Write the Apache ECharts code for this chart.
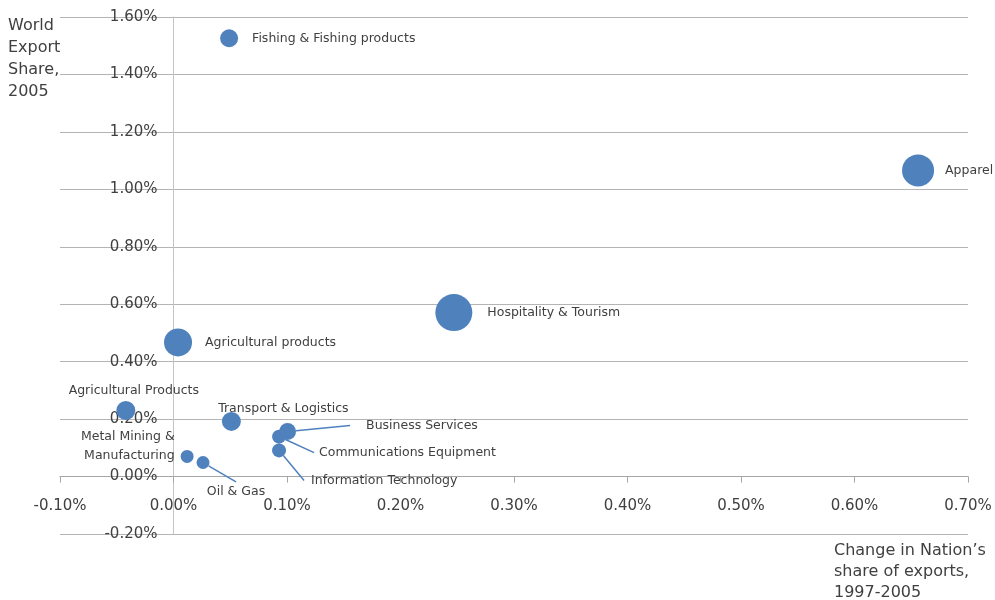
<!DOCTYPE html>
<html>
<head>
<meta charset="utf-8">
<script src="https://cdn.jsdelivr.net/npm/echarts@6/dist/echarts.min.js"></script>
<style>
  html, body { margin: 0; padding: 0; background: #ffffff; }
  #chart { width: 995px; height: 600px; }
</style>
</head>
<body>
<div id="chart"></div>
<script>
// Industry clusters: change in the nation's share of exports (x, %),
// world export share (y, %), bubble size = relative cluster size.
const industries = [
  'Fishing & Fishing products',
  'Apparel',
  'Hospitality & Tourism',
  'Agricultural products',
  'Agricultural Products',
  'Transport & Logistics',
  'Metal Mining & Manufacturing',
  'Oil & Gas',
  'Business Services',
  'Communications Equipment',
  'Information Technology'
];
const shareChange = [0.049, 0.656, 0.247, 0.004, -0.042, 0.051, 0.012, 0.026, 0.1005, 0.093, 0.093];
const worldShare  = [1.526, 1.066, 0.571, 0.467, 0.230, 0.192, 0.070, 0.049, 0.157, 0.139, 0.091];
const clusterSize = [81, 256, 342, 196, 90, 90, 42, 42, 72, 49, 49];

const xRange = { min: -0.1, max: 0.7, step: 0.1 };
const yRange = { min: -0.2, max: 1.6, step: 0.2 };

const FONT = '"DejaVu Sans", Verdana, sans-serif';
const TEXT = '#404040';
const BUBBLE = '#4f81bd';
const GRID_LINE = '#b4b4b4';

// Where each label sits relative to its bubble; "shift" nudges the label
// after placement, "leader" draws a guide line back to the bubble.
const placement = {
  'Fishing & Fishing products':   { position: 'right', distance: 14 },
  'Apparel':                      { position: 'right', distance: 11 },
  'Hospitality & Tourism':        { position: 'right', distance: 15 },
  'Agricultural products':        { position: 'right', distance: 13 },
  'Agricultural Products':        { position: 'top', shift: [8, 4] },
  'Transport & Logistics':        { position: 'top', shift: [52, 11] },
  'Metal Mining & Manufacturing': { position: 'left', distance: 6, shift: [0, -10], text: 'Metal Mining &\nManufacturing' },
  'Oil & Gas':                    { position: 'bottom', padding: [0, 0, 30, 0], shift: [33, 8], leader: true },
  'Business Services':            { position: 'right', padding: [0, 0, 0, 16], shift: [49, -6], leader: true },
  'Communications Equipment':     { position: 'right', padding: [0, 0, 0, 5], shift: [23, 16], leader: true },
  'Information Technology':       { position: 'right', padding: [0, 0, 0, 7], shift: [13, 30], leader: true }
};

const seriesData = industries.map(function (name, i) {
  const p = placement[name];
  const label = {
    position: p.position,
    distance: p.distance !== undefined ? p.distance : 5,
    formatter: p.text || name
  };
  if (p.padding) label.padding = p.padding;
  return {
    name: name,
    value: [shareChange[i], worldShare[i], clusterSize[i]],
    label: label,
    labelLine: { show: !!p.leader }
  };
});

const pct = function (v) { return v.toFixed(2) + '%'; };

const chart = echarts.init(document.getElementById('chart'), null, { renderer: 'canvas' });

const option = {
  backgroundColor: '#ffffff',
  animation: false,
  title: [
    {
      text: 'World\nExport\nShare,\n2005',
      left: 8, top: 15, padding: 0,
      textStyle: { fontFamily: FONT, fontSize: 16, fontWeight: 'normal', color: TEXT, lineHeight: 22 }
    },
    {
      text: 'Change in Nation\u2019s\nshare of exports,\n1997-2005',
      left: 834, top: 540, padding: 0,
      textStyle: { fontFamily: FONT, fontSize: 16, fontWeight: 'normal', color: TEXT, lineHeight: 21 }
    }
  ],
  grid: { left: 60, right: 27, top: 17, bottom: 66, containLabel: false, outerBoundsMode: 'none' },
  xAxis: {
    type: 'value',
    position: 'bottom',
    min: xRange.min, max: xRange.max, interval: xRange.step,
    axisLine: { show: true, onZero: false, lineStyle: { color: '#a6a6a6', width: 1 } },
    axisTick: { show: true, length: 6, lineStyle: { color: '#a6a6a6' } },
    axisLabel: { margin: 22, formatter: pct, fontFamily: FONT, fontSize: 15, color: TEXT },
    splitLine: { show: false }
  },
  yAxis: {
    type: 'value',
    position: 'left',
    min: yRange.min, max: yRange.max, interval: yRange.step,
    axisLine: { show: true, onZero: false, lineStyle: { color: '#c4c4c4', width: 1 } },
    axisTick: { show: false },
    axisLabel: { margin: 16, formatter: pct, fontFamily: FONT, fontSize: 15, color: TEXT },
    splitLine: { show: true, lineStyle: { color: GRID_LINE, width: 1 } }
  },
  series: [{
    type: 'scatter',
    data: seriesData,
    symbol: 'circle',
    symbolSize: function (val) { return Math.sqrt(val[2]) * 2; },
    itemStyle: { color: BUBBLE, opacity: 1 },
    label: {
      show: true,
      fontFamily: FONT, fontSize: 12.5, color: TEXT, lineHeight: 19
    },
    labelLine: {
      show: false,
      length2: 0,
      smooth: false,
      lineStyle: { color: BUBBLE, width: 1.5 }
    },
    labelLayout: function (params) {
      const p = placement[industries[params.dataIndex]];
      return p.shift ? { dx: p.shift[0], dy: p.shift[1] } : {};
    },
    emphasis: { disabled: true }
  }]
};

chart.setOption(option);

// Both axes cross at zero: move each axis line from the grid edge onto
// the other axis's zero value.
const xZero = chart.convertToPixel({ xAxisIndex: 0 }, 0);
const xLeft = chart.convertToPixel({ xAxisIndex: 0 }, xRange.min);
const yZero = chart.convertToPixel({ yAxisIndex: 0 }, 0);
const yBottom = chart.convertToPixel({ yAxisIndex: 0 }, yRange.min);

chart.setOption({
  xAxis: { offset: -(yBottom - yZero) },
  yAxis: { offset: -(xZero - xLeft) }
});
</script>
</body>
</html>
